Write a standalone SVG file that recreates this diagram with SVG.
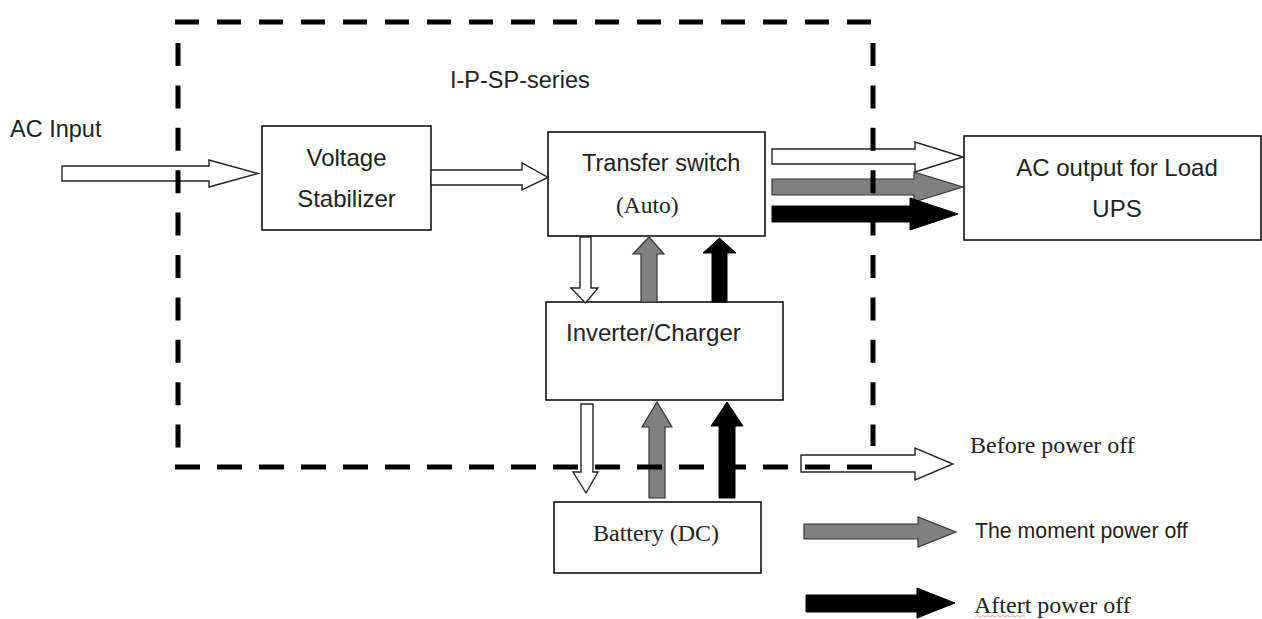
<svg xmlns="http://www.w3.org/2000/svg" width="1262" height="619" viewBox="0 0 1262 619">
<style>
.box{fill:#fff;stroke:#111;stroke-width:1.6}
.aw{fill:#fff;stroke:#222;stroke-width:1.4;stroke-linejoin:miter}
.ag{fill:#808080;stroke:#333;stroke-width:1.2}
.ab{fill:#000;stroke:#000;stroke-width:1}
.sans{font-family:"Liberation Sans",Arial,sans-serif;fill:#222}
.serif{font-family:"Liberation Serif","Times New Roman",serif;fill:#222}
.dash{fill:none;stroke:#000;stroke-width:5}
</style>
<rect width="1262" height="619" fill="#fff"/>
<text class="sans" x="10" y="137" font-size="23.5">AC Input</text>
<text class="sans" x="450" y="88" font-size="23.5">I-P-SP-series</text>
<g id="voltage-stabilizer">
<rect class="box" x="262" y="126" width="169" height="104"/>
<text class="sans" x="346.5" y="166" font-size="24" text-anchor="middle">Voltage</text>
<text class="sans" x="346.5" y="207" font-size="24" text-anchor="middle">Stabilizer</text>
</g>
<g id="transfer-switch">
<rect class="box" x="548" y="132" width="217" height="104"/>
<text class="sans" x="582" y="171" font-size="23.5">Transfer switch</text>
<text class="serif" x="616" y="213" font-size="23.5">(Auto)</text>
</g>
<g id="ac-output">
<rect class="box" x="964" y="136" width="297" height="104"/>
<text class="sans" x="1117" y="176" font-size="24" text-anchor="middle">AC output for Load</text>
<text class="sans" x="1117" y="217" font-size="24" text-anchor="middle">UPS</text>
</g>
<g id="inverter-charger">
<rect class="box" x="546" y="302" width="237" height="98"/>
<text class="sans" x="566" y="341" font-size="24">Inverter/Charger</text>
</g>
<g id="battery">
<rect class="box" x="554" y="502" width="207" height="71"/>
<text class="serif" x="593" y="541" font-size="24">Battery (DC)</text>
</g>
<g id="connectors">
<polygon class="aw" points="62,166 209,166 209,160 258,173.5 209,187 209,181 62,181"/>
<polygon class="aw" points="431,170 522,170 522,163 548,177.5 522,190 522,185 431,185"/>
<polygon class="aw" points="772,149 915,149 915,142 963,157 915,172 915,164 772,164"/>
<polygon class="ag" points="772,179 914,179 914,172 963,187 914,202 914,195 772,195"/>
<polygon class="ab" points="772,206 910,206 910,198 958,214 910,230 910,222 772,222"/>
<polygon class="aw" points="580,237 591,237 591,288 598,288 585.5,303 571,288 580,288"/>
<polygon class="aw" points="581,404 593,404 593,472 598,472 586,493 573,472 581,472"/>
<polygon class="ag" points="641,302 657,302 657,254 664,254 649,237 633,254 641,254"/>
<polygon class="ab" points="712,302 727,302 727,253 736,253 719.5,238 703,253 712,253"/>
<polygon class="ag" points="649,498 665,498 665,427 672,427 657,402 642,427 649,427"/>
<polygon class="ab" points="719,498 735,498 735,426 743,426 727,402 711,426 719,426"/>
</g>
<g id="legend">
<polygon class="aw" points="801,455 915,455 915,448 953,464 915,480 915,472 801,472"/>
<polygon class="ag" points="804,524 918,524 918,517 956,532 918,547 918,539 804,539"/>
<polygon class="ab" points="806,595 917,595 917,588 955,603 917,618 917,612 806,612"/>
<text class="serif" x="970" y="453" font-size="24">Before power off</text>
<text class="sans" x="975" y="538" font-size="21.3">The moment power off</text>
<text class="serif" x="974" y="613" font-size="24">Aftert power off</text>
<path d="M975,617 l2.5,-1.5 l2.5,1.5 l2.5,-1.5 l2.5,1.5 l2.5,-1.5 l2.5,1.5 l2.5,-1.5 l2.5,1.5 l2.5,-1.5 l2.5,1.5 l2.5,-1.5 l2.5,1.5 l2.5,-1.5 l2.5,1.5 l2.5,-1.5 l2.5,1.5 l2.5,-1.5 l2.5,1.5 l2.5,-1.5 l2.5,1.5" fill="none" stroke="#d88" stroke-width="0.8"/>
</g>
<g id="boundary">
<path class="dash" d="M175,22 H875" stroke-dasharray="24 18"/>
<path class="dash" d="M178,43 V448" stroke-dasharray="23 19.4"/>
<path class="dash" d="M873,43 V446" stroke-dasharray="23 19.4"/>
<path class="dash" d="M175,467 H875" stroke-dasharray="25 17"/>
</g>
</svg>
